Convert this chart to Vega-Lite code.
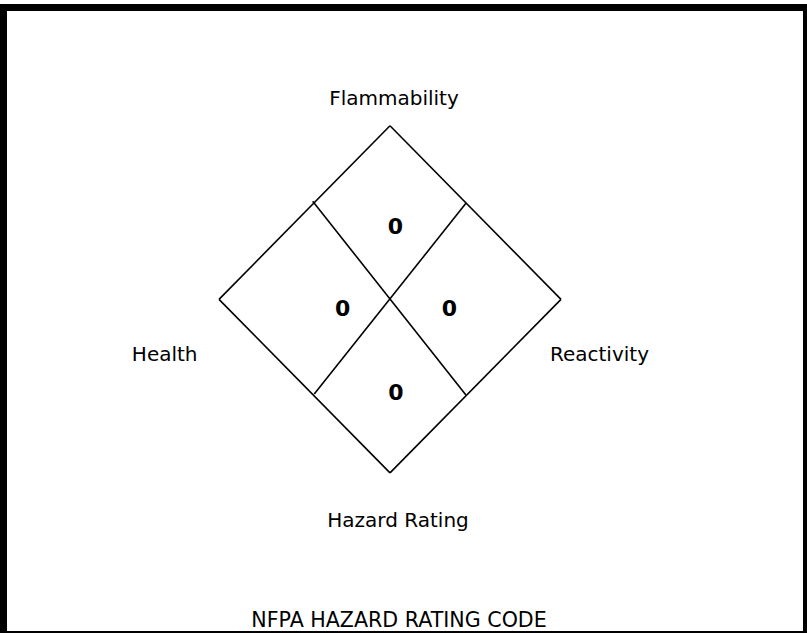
{
  "$schema": "https://vega.github.io/schema/vega-lite/v6.json",
  "width": 807,
  "height": 633,
  "autosize": {"type": "none"},
  "padding": 0,
  "background": "white",
  "config": {"view": {"stroke": null}},
  "datasets": {
    "frame": [{"x": -2.2602, "y": 1.6818, "x2": 2.4357, "y2": -1.932}],
    "segments": [
      {"part": "edge", "x": 0, "y": 1, "x2": 1, "y2": 0},
      {"part": "edge", "x": 1, "y": 0, "x2": 0, "y2": -1},
      {"part": "edge", "x": 0, "y": -1, "x2": -1, "y2": 0},
      {"part": "edge", "x": -1, "y": 0, "x2": 0, "y2": 1},
      {"part": "divider", "x": -0.452, "y": 0.565, "x2": 0.444, "y2": -0.551},
      {"part": "divider", "x": 0.444, "y": 0.553, "x2": -0.443, "y2": -0.545}
    ],
    "labels": [
      {"label": "Flammability", "x": 0.0234, "y": 1.153},
      {"label": "Health", "x": -1.3175, "y": -0.319},
      {"label": "Reactivity", "x": 1.2251, "y": -0.319},
      {"label": "Hazard Rating", "x": 0.047, "y": -1.278}
    ],
    "title": [
      {"label": "NFPA HAZARD RATING CODE", "x": 0.0526, "y": -1.855}
    ],
    "ratings": [
      {"category": "Flammability", "rating": 0, "x": 0.032, "y": 0.418},
      {"category": "Health", "rating": 0, "x": -0.2766, "y": -0.057},
      {"category": "Reactivity", "rating": 0, "x": 0.347, "y": -0.057},
      {"category": "Special", "rating": 0, "x": 0.035, "y": -0.542}
    ]
  },
  "layer": [
    {
      "data": {"name": "frame"},
      "mark": {"type": "rect", "filled": false, "stroke": "black", "strokeWidth": 7, "clip": false},
      "encoding": {
        "x": {"field": "x", "type": "quantitative", "axis": null, "scale": {"domain": [-2.2807, 2.4386], "nice": false, "zero": false}},
        "y": {"field": "y", "type": "quantitative", "axis": null, "scale": {"domain": [-1.923, 1.725], "nice": false, "zero": false}},
        "x2": {"field": "x2"},
        "y2": {"field": "y2"}
      }
    },
    {
      "data": {"name": "segments"},
      "mark": {"type": "rule", "color": "black", "strokeWidth": 1.6},
      "encoding": {
        "x": {"field": "x", "type": "quantitative", "axis": null},
        "y": {"field": "y", "type": "quantitative", "axis": null},
        "x2": {"field": "x2"},
        "y2": {"field": "y2"}
      }
    },
    {
      "data": {"name": "labels"},
      "mark": {"type": "text", "font": "DejaVu Sans", "fontSize": 20, "color": "black", "align": "center", "baseline": "middle"},
      "encoding": {
        "x": {"field": "x", "type": "quantitative", "axis": null},
        "y": {"field": "y", "type": "quantitative", "axis": null},
        "text": {"field": "label"}
      }
    },
    {
      "data": {"name": "title"},
      "mark": {"type": "text", "font": "DejaVu Sans", "fontSize": 20.6, "color": "black", "align": "center", "baseline": "middle"},
      "encoding": {
        "x": {"field": "x", "type": "quantitative", "axis": null},
        "y": {"field": "y", "type": "quantitative", "axis": null},
        "text": {"field": "label"}
      }
    },
    {
      "data": {"name": "ratings"},
      "mark": {"type": "text", "font": "DejaVu Sans", "fontSize": 22, "fontWeight": "bold", "color": "black", "align": "center", "baseline": "middle"},
      "encoding": {
        "x": {"field": "x", "type": "quantitative", "axis": null},
        "y": {"field": "y", "type": "quantitative", "axis": null},
        "text": {"field": "rating", "type": "quantitative"}
      }
    }
  ]
}
